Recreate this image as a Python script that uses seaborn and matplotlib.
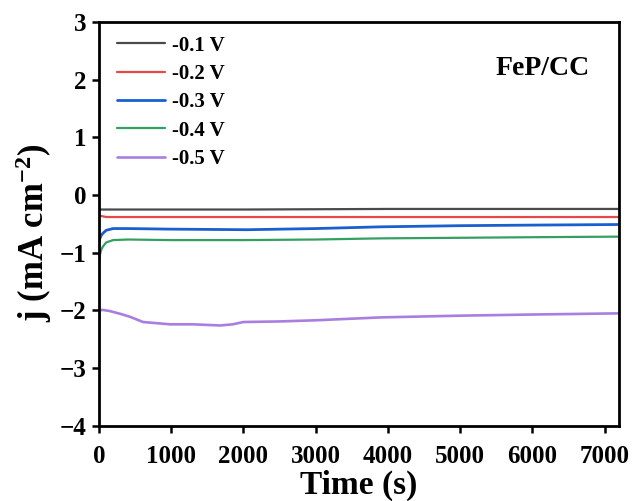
import numpy as np
import pandas as pd
import seaborn as sns
import matplotlib
matplotlib.use("Agg")
import matplotlib.pyplot as plt

labels = ["-0.1 V", "-0.2 V", "-0.3 V", "-0.4 V", "-0.5 V"]
colors = ["#4a4a4a", "#e5484a", "#1a5fcf", "#33a062", "#a97ee0"]
widths = [1.6, 1.6, 2.0, 1.6, 1.9]

t_01 = [0, 20, 500, 2000, 4000, 6000, 7200]
j_01 = [-0.23, -0.25, -0.25, -0.25, -0.24, -0.24, -0.24]

t_02 = [0, 20, 100, 500, 2000, 4000, 6000, 7200]
j_02 = [-0.34, -0.36, -0.38, -0.38, -0.38, -0.38, -0.38, -0.38]

t_03 = [0, 10, 30, 55, 100, 195, 400, 1000, 2050, 3000, 3900, 5000, 6000, 7200]
j_03 = [-0.83, -0.76, -0.70, -0.66, -0.61, -0.58, -0.58, -0.59, -0.60, -0.58, -0.55, -0.53, -0.52, -0.51]

t_04 = [0, 10, 30, 55, 100, 195, 400, 1000, 2000, 3000, 3900, 5000, 6000, 7200]
j_04 = [-1.18, -1.05, -0.95, -0.89, -0.82, -0.78, -0.77, -0.78, -0.78, -0.77, -0.75, -0.74, -0.73, -0.72]

t_05 = [0, 5, 50, 150, 300, 430, 610, 985, 1300, 1677, 1850, 2000, 2500, 3000, 3900, 5000, 6000, 7200]
j_05 = [-2.20, -2.00, -1.99, -2.01, -2.06, -2.11, -2.20, -2.24, -2.24, -2.26, -2.24, -2.20, -2.19, -2.17, -2.12, -2.09, -2.07, -2.05]

series_t = [t_01, t_02, t_03, t_04, t_05]
series_j = [j_01, j_02, j_03, j_04, j_05]

frames = []
for lab, t, j in zip(labels, series_t, series_j):
    frames.append(pd.DataFrame({"Time": t, "j": j, "E": lab}))
df = pd.concat(frames, ignore_index=True)

sns.set_style("ticks")
plt.rcParams["font.family"] = ["Liberation Serif", "DejaVu Serif"]
plt.rcParams["mathtext.fontset"] = "custom"
plt.rcParams["mathtext.rm"] = "Liberation Serif:bold"
plt.rcParams["mathtext.bf"] = "Liberation Serif:bold"
plt.rcParams["mathtext.default"] = "bf"
for k in ["text.color", "axes.labelcolor", "xtick.color", "ytick.color", "axes.edgecolor"]:
    plt.rcParams[k] = "black"

fig = plt.figure(figsize=(6.33, 5.01), dpi=100)
ax = fig.add_axes([0.1564, 0.150, 0.8216, 0.806])

sns.lineplot(data=df, x="Time", y="j", hue="E", palette=colors, hue_order=labels,
             ax=ax, linewidth=1.6, estimator=None, sort=False)
for line, w in zip(ax.get_lines(), widths):
    line.set_linewidth(w)

ax.set_xlim(0, 7200)
ax.set_ylim(-4, 3)
ax.set_xticks([0, 1000, 2000, 3000, 4000, 5000, 6000, 7000])
ax.set_yticks([-4, -3, -2, -1, 0, 1, 2, 3])
ax.set_yticklabels(["\u22124", "\u22123", "\u22122", "\u22121", "0", "1", "2", "3"])

for s in ax.spines.values():
    s.set_linewidth(2)
    s.set_color("black")
ax.tick_params(direction="out", length=5, width=1.8, labelsize=18, colors="black")
ax.tick_params(axis="x", pad=9)
ax.tick_params(axis="y", pad=4)
for lab in ax.get_xticklabels() + ax.get_yticklabels():
    lab.set_fontweight("bold")

ax.set_xlabel("Time (s)", fontsize=24, fontweight="bold")
ax.set_ylabel(r"j (mA cm$^{\mathbf{-2}}$)", fontsize=25, fontweight="bold")
ax.xaxis.label.set_va("baseline")
ax.xaxis.set_label_coords(0.5, -0.168)
ax.yaxis.set_label_coords(-0.087, 0.478)

leg = ax.legend(loc="upper left", bbox_to_anchor=(0.0187, 0.987), frameon=False,
                handlelength=2.3, borderaxespad=0.0, labelspacing=0.4,
                handletextpad=0.35, prop={"weight": "bold", "size": 15})
for line, w in zip(leg.get_lines(), widths):
    line.set_linewidth(w)

ax.text(0.944, 0.886, "FeP/CC", transform=ax.transAxes, ha="right", va="center",
        fontsize=20, fontweight="bold")

fig.savefig("out.png", dpi=100)
